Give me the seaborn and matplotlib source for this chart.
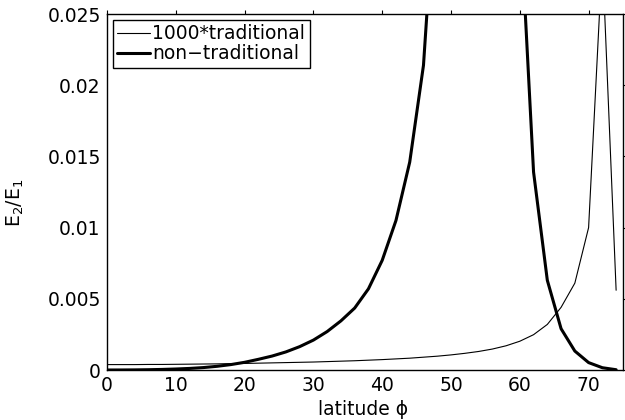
import numpy as np
import pandas as pd
import matplotlib
matplotlib.use("Agg")
import matplotlib.pyplot as plt
import seaborn as sns
from matplotlib.lines import Line2D

# latitude (degrees)
latitude = [0, 2, 4, 6, 8, 10, 12, 14, 16, 18, 20, 22, 24, 26, 28, 30, 32, 34, 36, 38,
            40, 42, 44, 46, 48, 50, 52, 54, 56, 58, 60, 62, 64, 66, 68, 70, 72, 74]

# 1000*traditional (in units of 1e-3)
traditional_1000 = [0.38, 0.38, 0.38, 0.39, 0.39, 0.40, 0.41, 0.42, 0.43, 0.45,
                    0.46, 0.48, 0.50, 0.52, 0.54, 0.56, 0.59, 0.62, 0.65, 0.69,
                    0.73, 0.78, 0.83, 0.90, 0.97, 1.06, 1.17, 1.30, 1.47, 1.70,
                    2.02, 2.48, 3.20, 4.40, 6.10, 10.0, 29.0, 5.6]

# non-traditional (in units of 1e-3)
non_traditional = [0.0, 0.002, 0.008, 0.02, 0.04, 0.07, 0.11, 0.17, 0.26, 0.38,
                   0.54, 0.75, 0.98, 1.27, 1.64, 2.10, 2.70, 3.45, 4.35, 5.70,
                   7.70, 10.5, 14.6, 21.4, 36.0, 60.0, 100.0, 200.0, 150.0, 70.0,
                   32.4, 13.9, 6.3, 2.9, 1.33, 0.52, 0.16, 0.02]

series_names = ["1000*traditional", "non\u2212traditional"]

x_ticks = [0, 10, 20, 30, 40, 50, 60, 70]
y_ticks = [0, 0.005, 0.01, 0.015, 0.02, 0.025]
y_ticklabels = ["0", "0.005", "0.01", "0.015", "0.02", "0.025"]

df = pd.DataFrame({
    "lat": latitude * 2,
    "val": [v * 1e-3 for v in traditional_1000] + [v * 1e-3 for v in non_traditional],
    "series": [series_names[0]] * len(latitude) + [series_names[1]] * len(latitude),
})

sns.set_theme(style="white")
plt.rcParams["font.family"] = ["DejaVu Sans"]
plt.rcParams["mathtext.fontset"] = "dejavusans"
plt.rcParams["text.color"] = "black"
plt.rcParams["axes.labelcolor"] = "black"
plt.rcParams["xtick.color"] = "black"
plt.rcParams["ytick.color"] = "black"

fig = plt.figure(figsize=(6.25, 4.2), dpi=100)
ax = fig.add_axes([107 / 625, 50 / 420, 516 / 625, 356 / 420])

lw_thin, lw_thick = 0.8, 2.2
sns.lineplot(data=df, x="lat", y="val", hue="series", size="series",
             sizes={series_names[0]: lw_thin, series_names[1]: lw_thick},
             palette={series_names[0]: "black", series_names[1]: "black"},
             ax=ax, legend=False, sort=False)

ax.set_xlim(0, 75)
ax.set_ylim(0, 0.025)
ax.set_xticks(x_ticks)
ax.set_xticklabels([str(t) for t in x_ticks])
ax.set_yticks(y_ticks)
ax.set_yticklabels(y_ticklabels)

fs = 13.5
ax.tick_params(axis="both", which="both", direction="out", length=3, width=0.8,
               labelsize=fs, colors="black", top=True, right=True,
               labeltop=False, labelright=False, pad=1.5)
for sp in ax.spines.values():
    sp.set_visible(True)
    sp.set_color("black")
    sp.set_linewidth(1.0)

ax.set_xlabel("latitude \u03d5", fontsize=fs, color="black")
ax.xaxis.set_label_coords(0.496, -0.085)
ax.set_ylabel("E$_2$/E$_1$", fontsize=fs, color="black")
ax.yaxis.set_label_coords(-0.157, 0.47)

handles = [Line2D([], [], color="black", lw=lw_thin), Line2D([], [], color="black", lw=lw_thick)]
leg = ax.legend(handles, series_names, loc="upper left", fontsize=fs,
                frameon=True, fancybox=False, edgecolor="black", framealpha=1,
                handlelength=1.75, handletextpad=0.1, borderpad=0.25,
                labelspacing=0.05, borderaxespad=0.3, labelcolor="black")
leg.get_frame().set_linewidth(1.0)

fig.savefig("out.png", dpi=100)
